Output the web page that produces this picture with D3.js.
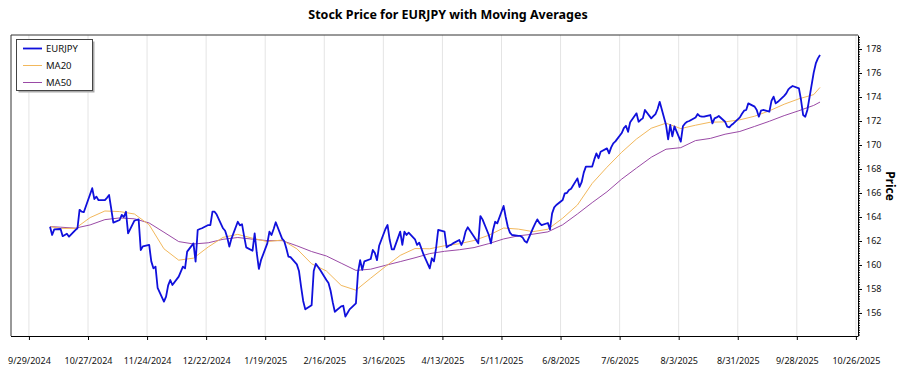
<!DOCTYPE html>
<html>
<head>
<meta charset="utf-8">
<script src="https://cdn.jsdelivr.net/npm/d3@7"></script>
<style>
body { margin: 0; background: #fff; }
text { font-family: "Noto Sans", sans-serif; }
</style>
</head>
<body>
<svg id="chart" width="900" height="375"></svg>
<script>
// trading days (Mon-Fri) from firstDay to lastDay
var firstDay = "2024-10-09";
var lastDay = "2025-10-09";

// EURJPY close, one value per weekday
var price = [
    163.19, 162.5, 162.97,
    163.0, 162.4, 162.5, 162.6, 162.36,
    162.9, 163.06, 164.6, 164.45, 164.4,
    165.9, 166.4, 165.5, 165.7, 165.4,
    165.4, 165.6, 165.83, 164.7, 163.53,
    163.75, 164.17, 164.0, 164.44, 162.64,
    163.7, 163.75, 163.8, 161.25, 161.55,
    161.67, 160.3, 159.72, 159.86, 158.1,
    156.94, 157.36, 158.3, 158.75, 158.33,
    159.03, 159.44, 159.86, 159.72, 161.11,
    161.8, 160.28, 162.92, 163.0, 163.06,
    163.33, 163.33, 164.44, 164.44, 164.2,
    163.06, 162.85, 162.3, 161.53, 162.2,
    163.6, 163.3, 163.4, 162.4, 161.47,
    161.19, 162.64, 161.0, 159.67, 160.4,
    161.8, 162.78, 162.5, 163.0, 163.56,
    162.2, 162.0, 161.4, 160.7, 160.65,
    160.05, 159.5, 158.2, 157.0, 156.3,
    156.65, 159.5, 160.1, 159.86, 159.6,
    158.75, 158.5, 157.85, 156.9, 156.1,
    156.55, 156.6, 155.7, 156.0, 156.3,
    156.8, 159.4, 160.4, 159.6, 160.3,
    160.5, 161.25, 161.0, 160.4, 161.6,
    163.0, 163.33, 162.1, 161.3, 161.3,
    162.78, 161.67, 162.78, 162.5, 162.69,
    162.14, 161.67, 161.86, 161.39, 160.9,
    159.72, 160.56, 160.3, 161.4, 162.92,
    162.78, 161.47, 161.6, 161.67, 161.8,
    162.08, 161.67, 162.08, 162.8, 163.14,
    162.36, 162.08, 161.8, 164.08, 163.8,
    162.5, 161.8, 162.92, 163.6, 163.47,
    164.92, 164.0, 163.19, 162.7, 162.5,
    162.42, 162.42, 162.3, 162.0, 161.86,
    163.1, 163.47, 163.8, 163.5, 163.33,
    163.5, 162.97, 164.3, 164.8, 165.0,
    165.42, 165.97, 166.0, 166.25, 166.35,
    167.22, 166.5, 166.9, 167.7, 168.2,
    168.2, 168.8, 169.3, 168.9, 169.44,
    169.72, 169.3, 169.8, 170.14, 170.3,
    171.0, 171.4, 171.6, 171.1, 171.9,
    172.64, 171.94, 172.1, 172.22, 172.92,
    172.22, 172.4, 172.58, 173.0, 173.6,
    171.67, 170.47, 171.67, 170.72, 171.56,
    170.28, 171.56, 171.8, 171.94, 172.0,
    172.3, 172.58, 172.4, 172.36, 172.36,
    172.5, 171.8, 172.22, 172.3, 172.42,
    171.94, 171.53, 171.47, 171.67, 171.8,
    172.3, 172.6, 172.86, 172.92, 173.47,
    173.2, 172.92, 172.36, 172.86, 172.92,
    172.78, 173.69, 174.03, 173.47, 173.6,
    174.1, 174.3, 174.64, 174.8, 174.92,
    174.72, 173.75, 172.5, 172.36, 172.92,
    176.03, 176.8, 177.22, 177.5
];

// moving averages read at firstDay, every Monday, and lastDay
var ma20 = [
    163.2, 163.05, 163.05, 163.95, 164.5, 164.45, 164.25, 163.35, 161.35, 160.4,
    160.57, 161.5, 162.3, 162.55, 162.23, 161.95, 162.08, 161.35, 160.1, 159.5,
    158.3, 157.9, 158.9, 159.87, 160.8, 161.37, 161.35, 161.6, 161.77, 162.04,
    162.48, 163.08, 162.99, 162.78, 162.98, 163.9, 165.0, 166.8, 168.15, 169.4,
    170.5, 171.4, 171.82, 171.37, 171.65, 171.9, 171.93, 172.1, 172.4, 172.85,
    173.4, 173.85, 174.2, 174.8
];
var ma50 = [
    163.2, 163.15, 163.07, 163.34, 163.78, 163.92, 163.85, 163.5, 162.73, 161.95,
    161.75, 161.85, 162.14, 162.29, 162.15, 162.03, 162.03, 161.6, 161.12, 160.75,
    160.15, 159.55, 159.65, 159.97, 160.28, 160.6, 160.95, 161.14, 161.27, 161.45,
    161.78, 162.17, 162.43, 162.57, 162.76, 163.35, 164.25, 165.2, 166.1, 167.16,
    168.08, 168.98, 169.65, 169.78, 170.37, 170.55, 170.9, 171.13, 171.55, 171.98,
    172.45, 172.86, 173.3, 173.58
];

var seriesNames = ["EURJPY", "MA20", "MA50"];
var seriesColors = ["#1010dc", "#f2b85c", "#9a4aa6"];

var tickStart = "2024-09-29";
var tickStepDays = 28;
var priceTicks = d3.range(156, 179, 2);

function init() {
    var left = 11, right = 858, top = 35, bottom = 336;
    var parse = d3.utcParse("%Y-%m-%d");

    var days = d3.utcDay.range(parse(firstDay), d3.utcDay.offset(parse(lastDay), 1))
        .filter(function(d){ var k = d.getUTCDay(); return k > 0 && k < 6; });
    if (days.length != price.length) console.warn("price length", days.length, price.length);

    var maDays = [parse(firstDay)]
        .concat(d3.utcMonday.range(parse(firstDay), parse(lastDay)))
        .concat([parse(lastDay)]);

    var xScale = d3.scaleUtc()
        .domain([new Date(Date.UTC(2024, 8, 20, 12)), new Date(Date.UTC(2025, 9, 27))])
        .range([left, right]);

    var yScale = d3.scaleLinear()
        .domain([154.08, 179.17])
        .range([bottom, top]);

    var xTicks = d3.utcDay.range(parse(tickStart), new Date(Date.UTC(2025, 9, 27)), tickStepDays);

    var svg = d3.select("#chart");

    // title
    svg.append("text")
        .attr("x", 448)
        .attr("y", 19)
        .attr("text-anchor", "middle")
        .style("font-size", "12.5px")
        .style("font-weight", "bold")
        .text("Stock Price for EURJPY with Moving Averages");

    // vertical grid
    svg.append("g")
        .selectAll("line")
        .data(xTicks)
        .enter()
        .append("line")
        .attr("x1", function(d){ return xScale(d); })
        .attr("x2", function(d){ return xScale(d); })
        .attr("y1", top)
        .attr("y2", bottom)
        .attr("stroke", "#e4e4e4")
        .attr("stroke-width", 1);

    // frame (top, left)
    svg.append("path")
        .attr("d", "M" + left + "," + bottom + "V" + top + "H" + right)
        .attr("fill", "none")
        .attr("stroke", "#333")
        .attr("stroke-width", 1);

    var line = d3.line()
        .x(function(d){ return xScale(d[0]); })
        .y(function(d){ return yScale(d[1]); });

    svg.append("path")
        .datum(maDays.map(function(d, i){ return [d, ma50[i]]; }))
        .attr("d", line)
        .attr("fill", "none")
        .attr("stroke", seriesColors[2])
        .attr("stroke-width", 1);

    svg.append("path")
        .datum(maDays.map(function(d, i){ return [d, ma20[i]]; }))
        .attr("d", line)
        .attr("fill", "none")
        .attr("stroke", seriesColors[1])
        .attr("stroke-width", 1);

    svg.append("path")
        .datum(days.map(function(d, i){ return [d, price[i]]; }))
        .attr("d", line)
        .attr("fill", "none")
        .attr("stroke", seriesColors[0])
        .attr("stroke-width", 1.8)
        .attr("stroke-linejoin", "round");

    // x axis
    var xAxis = svg.append("g")
        .attr("transform", "translate(0," + bottom + ")")
        .call(d3.axisBottom(xScale)
            .tickValues(xTicks)
            .tickFormat(d3.utcFormat("%-m/%-d/%Y"))
            .tickSize(4)
            .tickSizeOuter(0)
            .tickPadding(18));
    xAxis.selectAll("text").style("font-size", "9px").attr("fill", "#111");
    xAxis.select(".domain").attr("d", "M" + left + ",0.5H" + right);

    // y axis on the right, minor ticks first
    svg.append("g")
        .attr("transform", "translate(" + right + ",0)")
        .call(d3.axisRight(yScale)
            .tickValues(d3.range(154.2, 179.1, 0.2))
            .tickFormat("")
            .tickSize(2)
            .tickSizeOuter(0))
        .select(".domain").remove();

    var yAxis = svg.append("g")
        .attr("transform", "translate(" + right + ",0)")
        .call(d3.axisRight(yScale)
            .tickValues(priceTicks)
            .tickSize(4)
            .tickSizeOuter(0)
            .tickPadding(4));
    yAxis.selectAll("text").style("font-size", "9px").attr("fill", "#111");

    svg.append("text")
        .attr("transform", "translate(886,186) rotate(90)")
        .attr("text-anchor", "middle")
        .style("font-size", "12px")
        .style("font-weight", "bold")
        .text("Price");

    // legend
    var lg = svg.append("g").attr("transform", "translate(16,39)");
    lg.append("rect")
        .attr("x", 2.5).attr("y", 2.5)
        .attr("width", 76).attr("height", 51)
        .attr("fill", "#aaa");
    lg.append("rect")
        .attr("x", 0.5).attr("y", 0.5)
        .attr("width", 76).attr("height", 51)
        .attr("fill", "#fff")
        .attr("stroke", "#444");
    var item = lg.selectAll(".item")
        .data(seriesNames)
        .enter()
        .append("g")
        .attr("transform", function(d, i){ return "translate(0," + (9.5 + i * 17) + ")"; });
    item.append("line")
        .attr("x1", 7).attr("x2", 26)
        .attr("y1", 0).attr("y2", 0)
        .attr("stroke", function(d, i){ return seriesColors[i]; })
        .attr("stroke-width", function(d, i){ return i == 0 ? 1.8 : 1; });
    item.append("text")
        .attr("x", 30)
        .attr("y", 3.5)
        .style("font-size", "9.5px")
        .attr("fill", "#111")
        .text(function(d){ return d; });
}

window.onload = init;
</script>
</body>
</html>
